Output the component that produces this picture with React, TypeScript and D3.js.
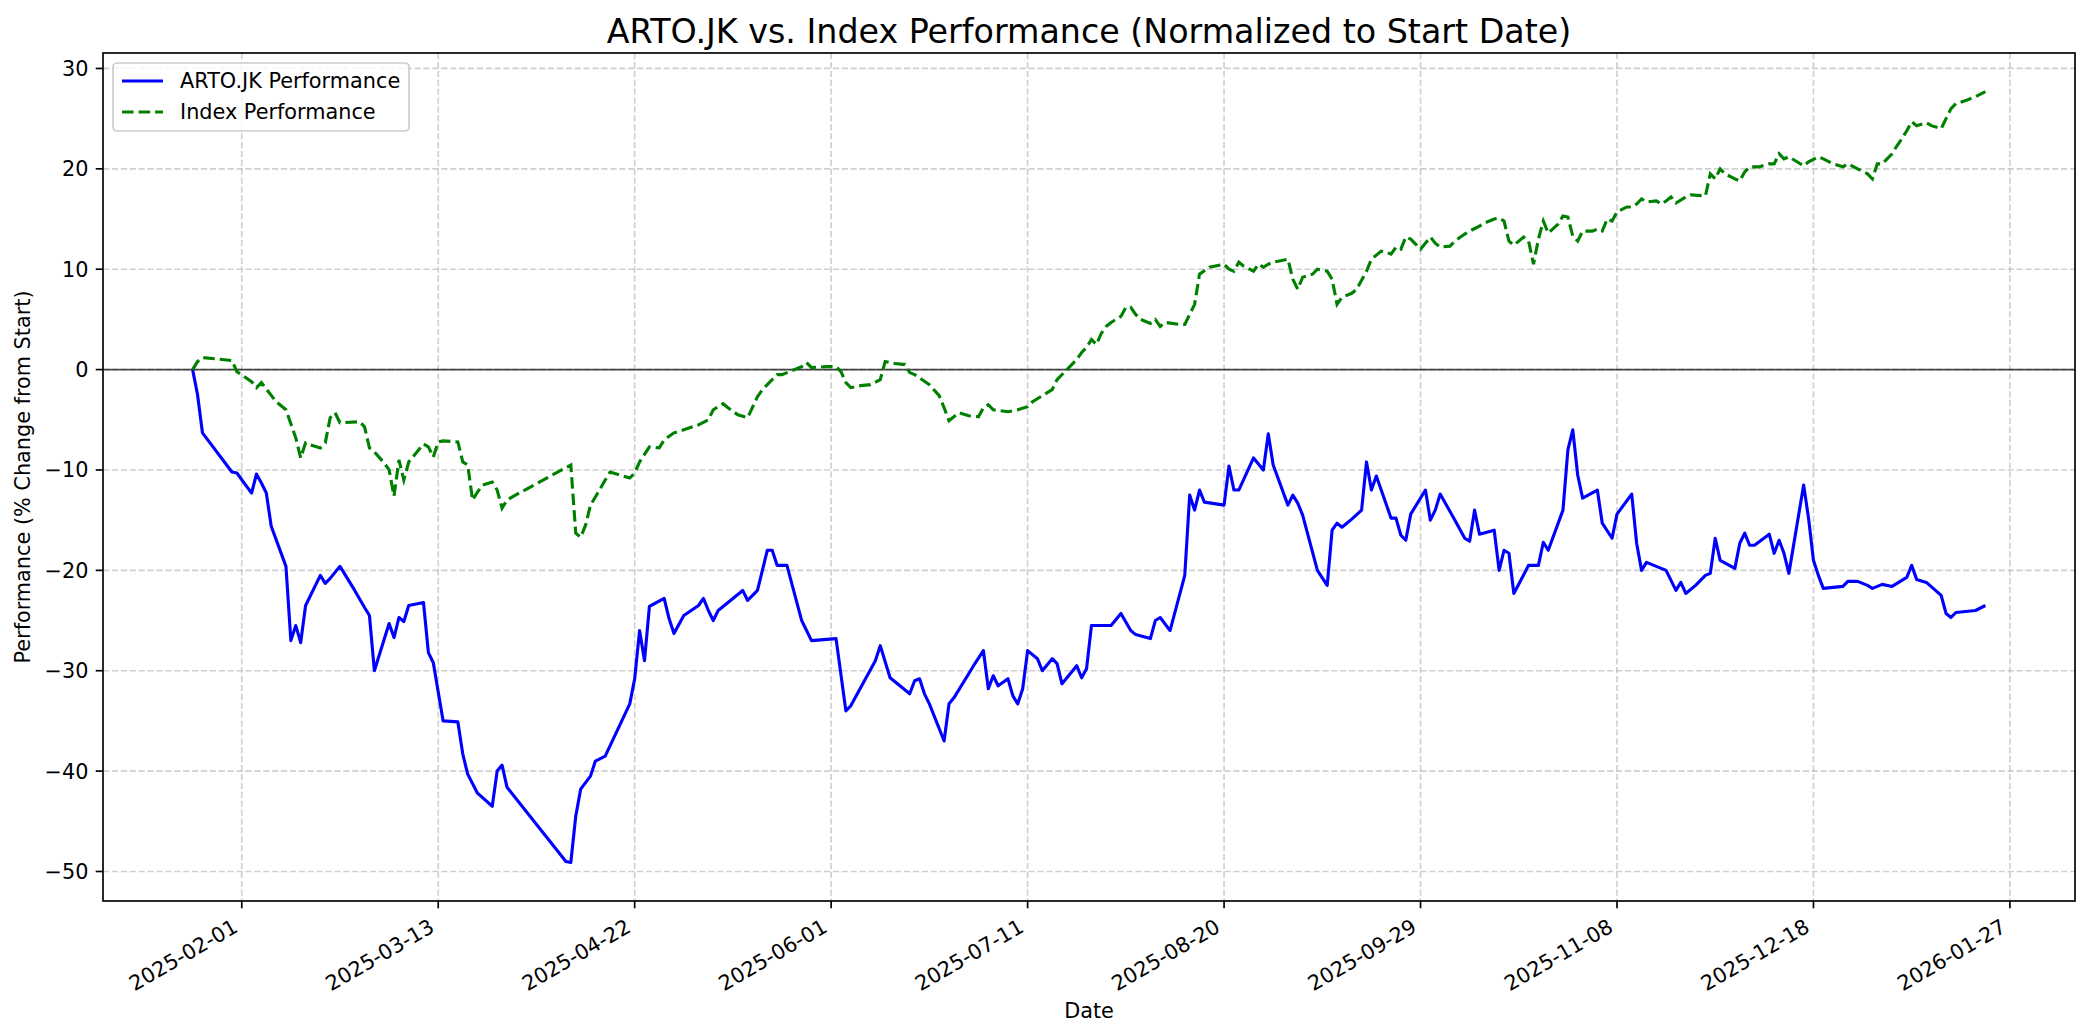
import { useEffect } from "react";
import * as d3 from "d3";

// ARTO.JK vs index, % change from first close
const stockSeries: [string, number][] = [
  ["2025-01-22", 0], ["2025-01-23", -2.5], ["2025-01-24", -6.3], ["2025-01-30", -10.2],
  ["2025-01-31", -10.3], ["2025-02-03", -12.3], ["2025-02-04", -10.4], ["2025-02-05", -11.3],
  ["2025-02-06", -12.3], ["2025-02-07", -15.6], ["2025-02-10", -19.6], ["2025-02-11", -27],
  ["2025-02-12", -25.5], ["2025-02-13", -27.2], ["2025-02-14", -23.5], ["2025-02-17", -20.5],
  ["2025-02-18", -21.3], ["2025-02-19", -20.8], ["2025-02-21", -19.6], ["2025-02-24", -22],
  ["2025-02-26", -23.7], ["2025-02-27", -24.5], ["2025-02-28", -30], ["2025-03-03", -25.3],
  ["2025-03-04", -26.7], ["2025-03-05", -24.7], ["2025-03-06", -25.1], ["2025-03-07", -23.5],
  ["2025-03-10", -23.2], ["2025-03-11", -28.2], ["2025-03-12", -29.2], ["2025-03-14", -35],
  ["2025-03-17", -35.1], ["2025-03-18", -38.3], ["2025-03-19", -40.3], ["2025-03-21", -42.2],
  ["2025-03-24", -43.5], ["2025-03-25", -40], ["2025-03-26", -39.4], ["2025-03-27", -41.6],
  ["2025-04-08", -49], ["2025-04-09", -49.1], ["2025-04-10", -44.5], ["2025-04-11", -41.8],
  ["2025-04-13", -40.5], ["2025-04-14", -39], ["2025-04-16", -38.5], ["2025-04-21", -33.3],
  ["2025-04-22", -30.8], ["2025-04-23", -26], ["2025-04-24", -29], ["2025-04-25", -23.6],
  ["2025-04-28", -22.8], ["2025-04-29", -24.8], ["2025-04-30", -26.3], ["2025-05-02", -24.5],
  ["2025-05-05", -23.5], ["2025-05-06", -22.8], ["2025-05-07", -24], ["2025-05-08", -25],
  ["2025-05-09", -24], ["2025-05-14", -22], ["2025-05-15", -23], ["2025-05-17", -22],
  ["2025-05-19", -18], ["2025-05-20", -18], ["2025-05-21", -19.5], ["2025-05-23", -19.5],
  ["2025-05-26", -25], ["2025-05-28", -27], ["2025-06-02", -26.8], ["2025-06-04", -34],
  ["2025-06-05", -33.5], ["2025-06-10", -29], ["2025-06-11", -27.5], ["2025-06-13", -30.7],
  ["2025-06-17", -32.3], ["2025-06-18", -31], ["2025-06-19", -30.8], ["2025-06-20", -32.3],
  ["2025-06-21", -33.3], ["2025-06-24", -37], ["2025-06-25", -33.3], ["2025-06-26", -32.7],
  ["2025-06-30", -29.5], ["2025-07-02", -28], ["2025-07-03", -31.8], ["2025-07-04", -30.5],
  ["2025-07-05", -31.5], ["2025-07-07", -30.8], ["2025-07-08", -32.5], ["2025-07-09", -33.3],
  ["2025-07-10", -31.8], ["2025-07-11", -28], ["2025-07-13", -28.8], ["2025-07-14", -30],
  ["2025-07-16", -28.8], ["2025-07-17", -29.3], ["2025-07-18", -31.3], ["2025-07-21", -29.5],
  ["2025-07-22", -30.7], ["2025-07-23", -29.8], ["2025-07-24", -25.5], ["2025-07-28", -25.5],
  ["2025-07-30", -24.3], ["2025-08-01", -26], ["2025-08-02", -26.4], ["2025-08-05", -26.8],
  ["2025-08-06", -25], ["2025-08-07", -24.7], ["2025-08-09", -26], ["2025-08-12", -20.5],
  ["2025-08-13", -12.5], ["2025-08-14", -14], ["2025-08-15", -12], ["2025-08-16", -13.2],
  ["2025-08-20", -13.5], ["2025-08-21", -9.6], ["2025-08-22", -12], ["2025-08-23", -12],
  ["2025-08-26", -8.8], ["2025-08-28", -10], ["2025-08-29", -6.4], ["2025-08-30", -9.5],
  ["2025-09-02", -13.5], ["2025-09-03", -12.5], ["2025-09-04", -13.3], ["2025-09-05", -14.5],
  ["2025-09-08", -20], ["2025-09-10", -21.5], ["2025-09-11", -16], ["2025-09-12", -15.3],
  ["2025-09-13", -15.7], ["2025-09-15", -14.9], ["2025-09-17", -14], ["2025-09-18", -9.2],
  ["2025-09-19", -12], ["2025-09-20", -10.6], ["2025-09-23", -14.8], ["2025-09-24", -14.8],
  ["2025-09-25", -16.5], ["2025-09-26", -17], ["2025-09-27", -14.4], ["2025-09-30", -12],
  ["2025-10-01", -15], ["2025-10-02", -14], ["2025-10-03", -12.4], ["2025-10-06", -15],
  ["2025-10-08", -16.8], ["2025-10-09", -17.1], ["2025-10-10", -14], ["2025-10-11", -16.4],
  ["2025-10-14", -16], ["2025-10-15", -20], ["2025-10-16", -18], ["2025-10-17", -18.3],
  ["2025-10-18", -22.3], ["2025-10-21", -19.5], ["2025-10-23", -19.5], ["2025-10-24", -17.2],
  ["2025-10-25", -18], ["2025-10-28", -14], ["2025-10-29", -8], ["2025-10-30", -6],
  ["2025-10-31", -10.5], ["2025-11-01", -12.8], ["2025-11-04", -12], ["2025-11-05", -15.3],
  ["2025-11-07", -16.8], ["2025-11-08", -14.4], ["2025-11-11", -12.4], ["2025-11-12", -17.3],
  ["2025-11-13", -20], ["2025-11-14", -19.2], ["2025-11-18", -20], ["2025-11-19", -21],
  ["2025-11-20", -22], ["2025-11-21", -21.2], ["2025-11-22", -22.3], ["2025-11-24", -21.5],
  ["2025-11-26", -20.5], ["2025-11-27", -20.3], ["2025-11-28", -16.8], ["2025-11-29", -19],
  ["2025-12-02", -19.8], ["2025-12-03", -17.3], ["2025-12-04", -16.3], ["2025-12-05", -17.5],
  ["2025-12-06", -17.5], ["2025-12-09", -16.4], ["2025-12-10", -18.3], ["2025-12-11", -17],
  ["2025-12-12", -18.3], ["2025-12-13", -20.3], ["2025-12-16", -11.5], ["2025-12-17", -14.8],
  ["2025-12-18", -19], ["2025-12-19", -20.5], ["2025-12-20", -21.8], ["2025-12-24", -21.6],
  ["2025-12-25", -21.1], ["2025-12-27", -21.1], ["2025-12-29", -21.5], ["2025-12-30", -21.8],
  ["2026-01-01", -21.4], ["2026-01-03", -21.6], ["2026-01-05", -21], ["2026-01-06", -20.7],
  ["2026-01-07", -19.5], ["2026-01-08", -20.9], ["2026-01-10", -21.2], ["2026-01-13", -22.5],
  ["2026-01-14", -24.3], ["2026-01-15", -24.7], ["2026-01-16", -24.2], ["2026-01-20", -24],
  ["2026-01-22", -23.5],
];

const indexSeries: [string, number][] = [
  ["2025-01-22", 0], ["2025-01-23", 0.8], ["2025-01-24", 1.2], ["2025-01-30", 0.9],
  ["2025-01-31", -0.2], ["2025-02-03", -1.2], ["2025-02-04", -1.8], ["2025-02-05", -1.3],
  ["2025-02-08", -3.2], ["2025-02-10", -4], ["2025-02-12", -6.8], ["2025-02-13", -8.8],
  ["2025-02-14", -7.3], ["2025-02-15", -7.5], ["2025-02-17", -7.8], ["2025-02-18", -7.3],
  ["2025-02-19", -4.8], ["2025-02-20", -4.3], ["2025-02-21", -5.3], ["2025-02-25", -5.2],
  ["2025-02-26", -5.7], ["2025-02-27", -7.8], ["2025-02-28", -8.2], ["2025-03-02", -9.3],
  ["2025-03-03", -10], ["2025-03-04", -12.6], ["2025-03-05", -9], ["2025-03-06", -11],
  ["2025-03-07", -9.2], ["2025-03-10", -7.4], ["2025-03-11", -7.7], ["2025-03-12", -8.7],
  ["2025-03-13", -7.2], ["2025-03-14", -7.1], ["2025-03-17", -7.2], ["2025-03-18", -9.2],
  ["2025-03-19", -9.5], ["2025-03-20", -13], ["2025-03-21", -12.2], ["2025-03-22", -11.5],
  ["2025-03-24", -11.2], ["2025-03-25", -12], ["2025-03-26", -13.8], ["2025-03-27", -13],
  ["2025-03-28", -12.7], ["2025-04-09", -9.5], ["2025-04-10", -16.3], ["2025-04-11", -16.7],
  ["2025-04-12", -15.5], ["2025-04-13", -13.5], ["2025-04-14", -12.7], ["2025-04-16", -11],
  ["2025-04-17", -10.2], ["2025-04-19", -10.5], ["2025-04-21", -10.8], ["2025-04-22", -10.3],
  ["2025-04-23", -9.2], ["2025-04-25", -7.7], ["2025-04-27", -7.8], ["2025-04-28", -7],
  ["2025-04-30", -6.3], ["2025-05-02", -6], ["2025-05-05", -5.5], ["2025-05-07", -5],
  ["2025-05-08", -4], ["2025-05-10", -3.4], ["2025-05-11", -3.8], ["2025-05-13", -4.5],
  ["2025-05-15", -4.8], ["2025-05-17", -2.7], ["2025-05-18", -2], ["2025-05-19", -1.5],
  ["2025-05-21", -0.5], ["2025-05-22", -0.5], ["2025-05-24", -0.1], ["2025-05-26", 0.3],
  ["2025-05-27", 0.7], ["2025-05-28", 0.2], ["2025-05-31", 0.3], ["2025-06-02", 0.3],
  ["2025-06-03", -0.2], ["2025-06-04", -1.3], ["2025-06-05", -1.8], ["2025-06-07", -1.6],
  ["2025-06-09", -1.5], ["2025-06-11", -1], ["2025-06-12", 0.8], ["2025-06-14", 0.6],
  ["2025-06-16", 0.5], ["2025-06-17", -0.3], ["2025-06-18", -0.5], ["2025-06-21", -1.5],
  ["2025-06-23", -2.6], ["2025-06-24", -3.8], ["2025-06-25", -5.1], ["2025-06-27", -4.3],
  ["2025-06-29", -4.6], ["2025-07-01", -4.7], ["2025-07-02", -3.8], ["2025-07-03", -3.5],
  ["2025-07-04", -4], ["2025-07-07", -4.2], ["2025-07-09", -4], ["2025-07-11", -3.7],
  ["2025-07-12", -3.2], ["2025-07-14", -2.6], ["2025-07-16", -2], ["2025-07-17", -1],
  ["2025-07-19", 0], ["2025-07-21", 1], ["2025-07-22", 1.7], ["2025-07-23", 2.2],
  ["2025-07-24", 3], ["2025-07-25", 2.5], ["2025-07-26", 3.6], ["2025-07-27", 4.3],
  ["2025-07-28", 4.7], ["2025-07-29", 5], ["2025-07-30", 5.3], ["2025-07-31", 6.2],
  ["2025-08-01", 6.2], ["2025-08-02", 5.5], ["2025-08-03", 5], ["2025-08-05", 4.6],
  ["2025-08-06", 5], ["2025-08-07", 4.3], ["2025-08-08", 4.7], ["2025-08-11", 4.5],
  ["2025-08-12", 4.5], ["2025-08-13", 5.5], ["2025-08-14", 6.5], ["2025-08-15", 9.5],
  ["2025-08-17", 10.2], ["2025-08-18", 10.3], ["2025-08-20", 10.5], ["2025-08-21", 10],
  ["2025-08-22", 9.8], ["2025-08-23", 10.7], ["2025-08-24", 10.3], ["2025-08-26", 9.8],
  ["2025-08-27", 10.5], ["2025-08-28", 10.2], ["2025-08-29", 10.5], ["2025-08-30", 10.7],
  ["2025-08-31", 10.8], ["2025-09-02", 11], ["2025-09-03", 9], ["2025-09-04", 8],
  ["2025-09-05", 9.2], ["2025-09-07", 9.5], ["2025-09-08", 10], ["2025-09-10", 9.8],
  ["2025-09-11", 9], ["2025-09-12", 6.5], ["2025-09-13", 7.2], ["2025-09-15", 7.6],
  ["2025-09-16", 8], ["2025-09-18", 9.8], ["2025-09-19", 11], ["2025-09-21", 11.8],
  ["2025-09-22", 11.7], ["2025-09-23", 11.5], ["2025-09-24", 12.2], ["2025-09-25", 12],
  ["2025-09-26", 13.2], ["2025-09-27", 13], ["2025-09-28", 12.5], ["2025-09-29", 12],
  ["2025-10-01", 13.2], ["2025-10-02", 12.6], ["2025-10-03", 12.2], ["2025-10-05", 12.3],
  ["2025-10-06", 12.8], ["2025-10-08", 13.5], ["2025-10-09", 13.8], ["2025-10-11", 14.3],
  ["2025-10-12", 14.6], ["2025-10-14", 15], ["2025-10-15", 15.1], ["2025-10-16", 14.8],
  ["2025-10-17", 12.8], ["2025-10-18", 12.4], ["2025-10-19", 12.8], ["2025-10-20", 13.2],
  ["2025-10-21", 12.8], ["2025-10-22", 10.5], ["2025-10-23", 13], ["2025-10-24", 14.8],
  ["2025-10-25", 13.6], ["2025-10-27", 14.5], ["2025-10-28", 15.3], ["2025-10-29", 15.2],
  ["2025-10-30", 13.3], ["2025-10-31", 12.8], ["2025-11-01", 13.8], ["2025-11-03", 13.8],
  ["2025-11-04", 14], ["2025-11-05", 13.8], ["2025-11-06", 15], ["2025-11-07", 14.8],
  ["2025-11-08", 15.7], ["2025-11-10", 16.2], ["2025-11-11", 16.2], ["2025-11-12", 16.5],
  ["2025-11-13", 17], ["2025-11-14", 16.7], ["2025-11-16", 16.8], ["2025-11-17", 16.5],
  ["2025-11-18", 16.8], ["2025-11-19", 17.2], ["2025-11-20", 16.6], ["2025-11-22", 17.2],
  ["2025-11-23", 17.4], ["2025-11-26", 17.3], ["2025-11-27", 19.5], ["2025-11-28", 19],
  ["2025-11-29", 20], ["2025-11-30", 19.5], ["2025-12-02", 19], ["2025-12-03", 18.8],
  ["2025-12-04", 19.7], ["2025-12-05", 20.2], ["2025-12-07", 20.2], ["2025-12-09", 20.5],
  ["2025-12-10", 20.5], ["2025-12-11", 21.5], ["2025-12-12", 21], ["2025-12-13", 21.2],
  ["2025-12-16", 20.3], ["2025-12-17", 20.7], ["2025-12-19", 21.2], ["2025-12-20", 21],
  ["2025-12-22", 20.5], ["2025-12-24", 20.2], ["2025-12-25", 20.5], ["2025-12-27", 20],
  ["2025-12-29", 19.5], ["2025-12-30", 19], ["2025-12-31", 20.5], ["2026-01-01", 20.5],
  ["2026-01-03", 21.5], ["2026-01-04", 22.3], ["2026-01-05", 23], ["2026-01-06", 23.8],
  ["2026-01-07", 24.7], ["2026-01-08", 24.3], ["2026-01-10", 24.6], ["2026-01-11", 24.3],
  ["2026-01-13", 24], ["2026-01-14", 25], ["2026-01-15", 26], ["2026-01-16", 26.5],
  ["2026-01-18", 26.8], ["2026-01-20", 27.2], ["2026-01-22", 27.7],
];

const xTickLabels = [
  "2025-02-01", "2025-03-13", "2025-04-22", "2025-06-01", "2025-07-11",
  "2025-08-20", "2025-09-29", "2025-11-08", "2025-12-18", "2026-01-27",
];
const yTicks = [-50, -40, -30, -20, -10, 0, 10, 20, 30];
const legendLabels = ["ARTO.JK Performance", "Index Performance"];

const parse = d3.timeParse("%Y-%m-%d");
const FONT = "DejaVu Sans, sans-serif";

export default function App() {
  useEffect(() => {
    document.body.style.margin = "0";
  }, []);

  const W = 2084, H = 1035;
  const left = 103, right = 2075, top = 53, bottom = 901;

  const stock = stockSeries.map(([d, v]) => ({ date: parse(d)!, value: v }));
  const index = indexSeries.map(([d, v]) => ({ date: parse(d)!, value: v }));
  const all = [...stock, ...index];

  // matplotlib-style 5% margins
  const [d0, d1] = d3.extent(all, (p) => p.date.getTime()) as [number, number];
  const dPad = (d1 - d0) * 0.05;
  const [v0, v1] = d3.extent(all, (p) => p.value) as [number, number];
  const vPad = (v1 - v0) * 0.05;

  const x = d3.scaleTime().domain([new Date(d0 - dPad), new Date(d1 + dPad)]).range([left, right]);
  const y = d3.scaleLinear().domain([v0 - vPad, v1 + vPad]).range([bottom, top]);

  const line = d3
    .line<{ date: Date; value: number }>()
    .x((p) => x(p.date))
    .y((p) => y(p.value));

  const minus = (n: number) => (n < 0 ? "\u2212" + Math.abs(n) : String(n));
  const gridStyle = { stroke: "#b0b0b0", strokeOpacity: 0.6, strokeWidth: 1.67, strokeDasharray: "6.2 2.7" };

  return (
    <svg width={W} height={H} style={{ display: "block", background: "#fff", fontFamily: FONT }}>
      <defs>
        <clipPath id="plot">
          <rect x={left} y={top} width={right - left} height={bottom - top} />
        </clipPath>
      </defs>

      {/* grid */}
      {xTickLabels.map((t) => (
        <line key={"gx" + t} x1={x(parse(t)!)} x2={x(parse(t)!)} y1={top} y2={bottom} {...gridStyle} />
      ))}
      {yTicks.map((t) => (
        <line key={"gy" + t} x1={left} x2={right} y1={y(t)} y2={y(t)} {...gridStyle} />
      ))}

      {/* zero line */}
      <line x1={left} x2={right} y1={y(0)} y2={y(0)} stroke="#000" strokeWidth={1.67} strokeOpacity={0.7} />

      <g clipPath="url(#plot)">
        <path d={line(stock) ?? ""} fill="none" stroke="#0000ff" strokeWidth={3.125} strokeLinejoin="round" />
        <path d={line(index) ?? ""} fill="none" stroke="#008000" strokeWidth={3.125} strokeDasharray="11.56 5" />
      </g>

      {/* frame */}
      <rect x={left} y={top} width={right - left} height={bottom - top} fill="none" stroke="#000" strokeWidth={1.67} />

      {/* x ticks */}
      {xTickLabels.map((t) => {
        const px = x(parse(t)!);
        return (
          <g key={"xt" + t}>
            <line x1={px} x2={px} y1={bottom} y2={bottom + 7.3} stroke="#000" strokeWidth={1.67} />
            <text
              transform={`translate(${px - 2.5},${bottom + 30}) rotate(-30)`}
              textAnchor="end"
              fontSize={20.8}
              fill="#000"
            >
              {t}
            </text>
          </g>
        );
      })}

      {/* y ticks */}
      {yTicks.map((t) => (
        <g key={"yt" + t}>
          <line x1={left - 7.3} x2={left} y1={y(t)} y2={y(t)} stroke="#000" strokeWidth={1.67} />
          <text x={left - 14.6} y={y(t)} dy="0.36em" textAnchor="end" fontSize={20.8} fill="#000">
            {minus(t)}
          </text>
        </g>
      ))}

      {/* labels */}
      <text x={(left + right) / 2} y={43} textAnchor="middle" fontSize={33.3} fill="#000">
        ARTO.JK vs. Index Performance (Normalized to Start Date)
      </text>
      <text x={(left + right) / 2} y={1018} textAnchor="middle" fontSize={20.8} fill="#000">
        Date
      </text>
      <text transform={`translate(30,${(top + bottom) / 2}) rotate(-90)`} textAnchor="middle" fontSize={20.8} fill="#000">
        Performance (% Change from Start)
      </text>

      {/* legend */}
      <g>
        <rect x={113} y={63} width={296} height={68} rx={4} fill="#fff" fillOpacity={0.8} stroke="#cccccc" strokeWidth={1.67} />
        <line x1={122} x2={163} y1={81} y2={81} stroke="#0000ff" strokeWidth={3.125} />
        <line x1={122} x2={163} y1={112} y2={112} stroke="#008000" strokeWidth={3.125} strokeDasharray="11.56 5" />
        <text x={180} y={81} dy="0.36em" fontSize={20.8} fill="#000">{legendLabels[0]}</text>
        <text x={180} y={112} dy="0.36em" fontSize={20.8} fill="#000">{legendLabels[1]}</text>
      </g>
    </svg>
  );
}
